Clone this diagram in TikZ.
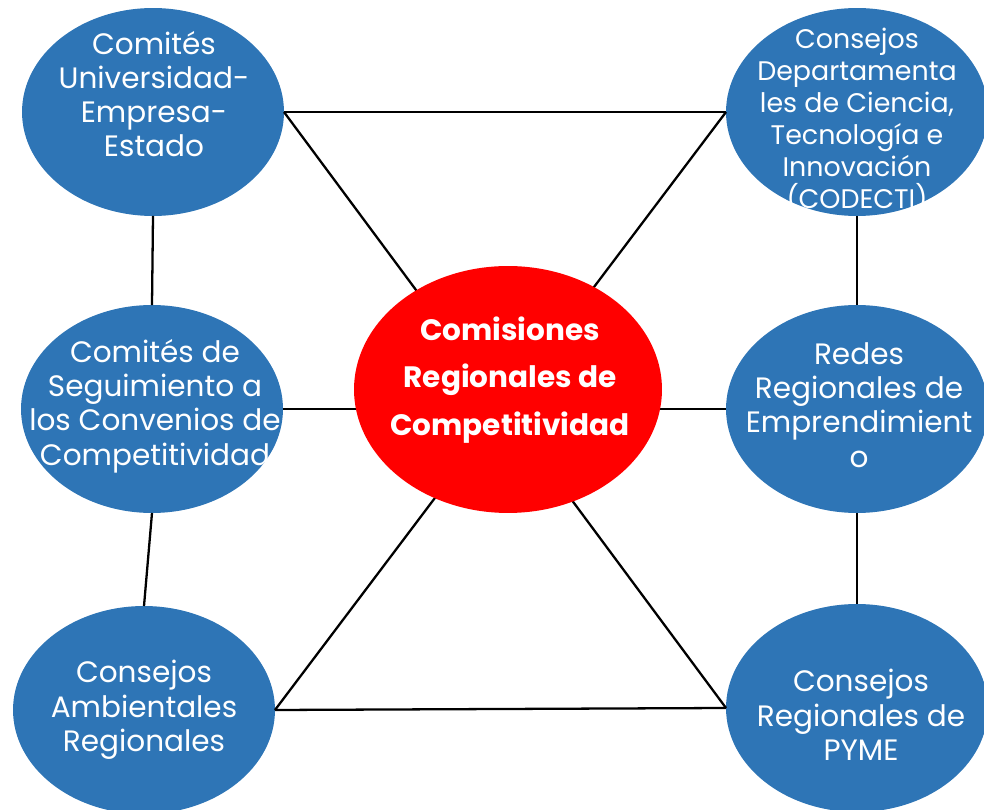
\documentclass[tikz,border=0pt]{standalone}
\usepackage{fontspec}
\setmainfont{Poppins}
\definecolor{rcblue}{RGB}{46,117,182}
\definecolor{rcred}{RGB}{255,0,0}
\usetikzlibrary{shapes.geometric}

\begin{document}
\begin{tikzpicture}[x=0.02cm,y=-0.02cm,
  blob/.style={ellipse,fill=rcblue,minimum width=5.24cm,minimum height=4.16cm,inner sep=0pt,outer sep=0pt},
  blobtxt/.style={text=white,align=center,inner sep=0pt,font=\fontsize{16.8}{19.5}\selectfont},
  link/.style={line width=1.3pt}]
  \useasboundingbox (0,0) rectangle (984,810);
  % Regional bodies around the commission
  \node[blob] (cuee) at (153,112) {};
  \node[blob] (codecti) at (857,112) {};
  \node[blob] (cscc) at (152,409) {};
  \node[blob] (rre) at (857,409) {};
  \node[blob] (car) at (144,710) {};
  \node[blob] (pyme) at (857,708) {};
  % Connections (passing behind the centre)
  \foreach \a/\b in {cuee.east/codecti.west,cuee.east/pyme.west,codecti.west/car.east,
    car.east/pyme.west,cscc.east/rre.west,cuee.south/cscc.north,cscc.south/car.north,
    codecti.south/rre.north,rre.south/pyme.north}
    \draw[link] (\a) -- (\b);
  % Central commission
  \node[ellipse,fill=rcred,minimum width=6.16cm,minimum height=4.94cm,inner sep=0pt] (crc) at (508,389.5) {};
  \node[text=white,align=center,inner sep=0pt,font=\fontsize{16.8}{27}\selectfont\bfseries] (crc-t) at (510,380)
    {Comisiones\\Regionales de\\Competitividad};
  % Labels
  \node[blobtxt] (cuee-t) at (154,94) {Comités\\Universidad-\\Empresa-\\Estado};
  \node[blobtxt,font=\fontsize{15.3}{18.2}\selectfont] (codecti-t) at (857,121) {Consejos\\Departamenta\\les de Ciencia,\\Tecnología e\\Innovación\\(CODECTI)};
  \node[blobtxt] (cscc-t) at (155,406) {Comités de\\Seguimiento a\\los Convenios de\\Competitividad};
  \node[blobtxt] (rre-t) at (859,405) {Redes\\Regionales de\\Emprendimient\\o};
  \node[blobtxt] (car-t) at (144,710) {Consejos\\Ambientales\\Regionales};
  \node[blobtxt] (pyme-t) at (861,715) {Consejos\\Regionales de\\PYME};
\end{tikzpicture}
\end{document}
